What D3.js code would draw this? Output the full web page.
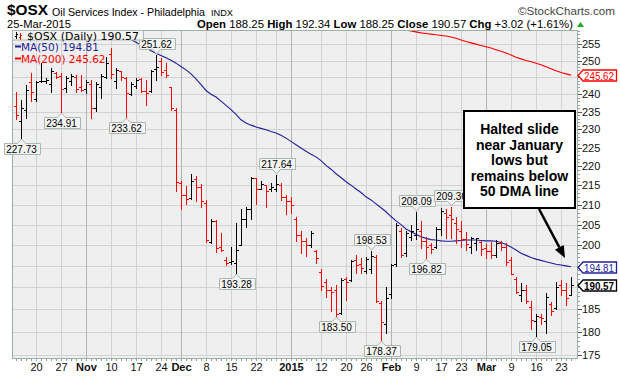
<!DOCTYPE html>
<html><head><meta charset="utf-8">
<script src="https://cdn.jsdelivr.net/npm/d3@7/dist/d3.min.js"></script>
<style>
body{margin:0;background:#fff}
svg{display:block;font-family:"Liberation Sans",Arial,sans-serif}
</style>
</head><body>
<svg id="c" width="620" height="376"></svg>
<script>
// ---------------- DATA ----------------
const dates = [
"2014-10-14","2014-10-15","2014-10-16","2014-10-17","2014-10-20","2014-10-21","2014-10-22","2014-10-23","2014-10-24","2014-10-27","2014-10-28","2014-10-29","2014-10-30","2014-10-31",
"2014-11-03","2014-11-04","2014-11-05","2014-11-06","2014-11-07","2014-11-10","2014-11-11","2014-11-12","2014-11-13","2014-11-14","2014-11-17","2014-11-18","2014-11-19","2014-11-20","2014-11-21","2014-11-24","2014-11-25","2014-11-26","2014-11-28",
"2014-12-01","2014-12-02","2014-12-03","2014-12-04","2014-12-05","2014-12-08","2014-12-09","2014-12-10","2014-12-11","2014-12-12","2014-12-15","2014-12-16","2014-12-17","2014-12-18","2014-12-19","2014-12-22","2014-12-23","2014-12-24","2014-12-26","2014-12-29","2014-12-30","2014-12-31",
"2015-01-02","2015-01-05","2015-01-06","2015-01-07","2015-01-08","2015-01-09","2015-01-12","2015-01-13","2015-01-14","2015-01-15","2015-01-16","2015-01-20","2015-01-21","2015-01-22","2015-01-23","2015-01-26","2015-01-27","2015-01-28","2015-01-29","2015-01-30",
"2015-02-02","2015-02-03","2015-02-04","2015-02-05","2015-02-06","2015-02-09","2015-02-10","2015-02-11","2015-02-12","2015-02-13","2015-02-17","2015-02-18","2015-02-19","2015-02-20","2015-02-23","2015-02-24","2015-02-25","2015-02-26","2015-02-27",
"2015-03-02","2015-03-03","2015-03-04","2015-03-05","2015-03-06","2015-03-09","2015-03-10","2015-03-11","2015-03-12","2015-03-13","2015-03-16","2015-03-17","2015-03-18","2015-03-19","2015-03-20","2015-03-23","2015-03-24","2015-03-25"];

const opens = [236.5,232.5,235.5,243.5,238.5,243.8,244.0,243.0,246.2,245.5,241.8,244.0,245.0,242.0,
241.5,243.0,236.0,242.0,245.0,252.0,244.0,246.7,244.8,240.0,242.5,244.5,241.0,241.0,247.5,250.0,247.0,242.0,235.5,
215.5,212.4,211.8,216.5,214.5,210.5,200.8,206.0,199.5,196.5,196.0,195.6,200.0,206.5,209.0,216.8,214.0,215.0,214.0,214.0,215.0,212.0,
211.0,206.5,202.5,201.0,200.0,198.6,193.5,191.2,189.5,189.5,184.2,192.0,191.8,196.3,195.5,193.8,194.2,197.2,186.5,181.8,
188.5,195.5,203.5,198.0,202.0,202.5,203.5,201.0,200.0,199.5,204.0,208.0,207.5,205.5,203.5,201.5,199.5,200.5,200.8,
199.2,198.5,197.5,200.5,199.5,196.5,192.0,188.2,189.5,185.5,182.4,183.3,182.5,186.2,185.4,190.5,189.3,188.25];
const highs = [240.8,238.4,242.7,246.2,243.9,249.2,244.7,247.7,246.5,246.2,245.4,246.0,245.7,245.7,
244.2,244.2,243.7,246.0,251.2,253.7,247.7,246.8,245.2,243.7,244.7,244.7,244.2,247.2,251.62,250.7,249.2,242.2,236.0,
216.1,214.9,217.8,217.5,215.3,211.1,206.5,206.1,202.8,197.0,199.6,205.3,209.0,209.4,217.1,216.9,216.1,215.0,215.7,217.64,215.7,212.4,
211.9,207.0,203.5,201.6,203.3,198.8,194.2,192.0,190.0,190.5,192.1,192.3,196.4,197.6,196.8,197.0,198.53,197.6,187.0,190.0,
195.5,205.5,204.2,203.3,205.0,208.09,205.8,202.0,200.5,204.3,209.2,208.8,209.36,206.8,205.8,203.2,202.0,201.8,201.0,
200.2,200.8,201.2,201.0,200.4,197.2,192.5,191.0,190.6,186.8,183.9,184.0,188.7,186.6,191.2,191.6,190.9,192.34];
const lows = [232.9,227.73,233.3,238.0,238.0,243.5,243.2,240.8,244.7,234.91,240.8,242.7,240.8,241.0,
240.5,233.2,235.1,239.0,244.7,244.7,241.8,244.2,233.62,239.8,241.8,240.8,237.0,240.8,244.2,245.7,245.2,235.5,213.6,
209.0,210.2,211.5,211.0,209.4,200.8,200.4,198.4,198.6,195.2,195.4,193.28,200.0,204.5,206.5,210.2,214.0,209.4,213.6,213.6,211.1,207.7,
207.8,201.0,198.0,197.3,199.6,195.6,189.5,187.8,184.6,183.5,184.0,187.2,191.5,193.3,193.3,193.3,193.4,186.6,178.37,179.9,
187.5,195.0,197.0,197.3,201.2,201.5,199.2,196.82,198.0,199.3,202.5,201.8,201.6,200.4,199.6,198.8,198.0,198.8,197.6,
196.8,196.8,197.2,198.8,195.2,193.0,188.7,186.8,186.4,180.7,179.05,181.8,179.7,183.7,185.2,188.3,186.1,188.25];
const closes = [234.0,236.0,241.3,240.8,243.5,243.9,244.2,246.8,245.0,241.5,244.8,245.5,241.5,241.3,
243.6,236.0,243.0,245.5,249.2,246.0,247.0,245.0,240.3,243.0,244.3,241.0,240.5,246.8,248.0,246.5,245.8,236.0,215.9,
212.4,211.5,216.1,214.5,211.0,201.2,206.0,199.2,198.9,195.6,196.2,198.8,206.5,209.0,216.8,214.0,215.3,213.5,214.5,215.3,211.9,210.8,
210.0,202.5,201.0,200.0,203.0,196.8,190.3,189.5,189.0,184.0,191.8,191.3,196.2,195.3,194.5,196.6,197.3,187.0,182.3,187.6,
195.2,205.0,197.6,202.8,203.5,203.8,201.0,199.5,199.0,204.0,208.5,207.0,206.3,204.0,201.5,200.3,201.6,201.8,199.0,
198.5,197.5,200.5,199.5,196.0,193.2,189.0,189.3,187.0,182.6,183.5,183.0,187.9,184.6,190.0,189.5,187.55,190.57];

const ma50Start = "2014-11-10";
const ma50 = [259.8,258.9,258.0,257.1,256.4,255.6,254.7,253.9,253.0,252.2,251.5,250.8,250.1,249.2,
248.2,247.2,246.0,244.5,242.8,241.1,240.0,239.2,238.0,236.8,235.6,234.2,232.7,231.8,231.2,230.7,230.3,229.9,229.4,229.0,228.4,227.6,
226.7,225.8,224.9,224.0,223.2,222.5,221.5,220.2,219.2,218.0,217.0,215.9,215.0,214.0,213.1,212.0,211.2,210.2,209.2,208.2,
207.0,205.9,205.0,203.9,203.2,202.6,202.0,201.6,201.3,201.2,201.0,200.9,200.9,201.0,201.1,201.2,201.2,201.2,201.1,
201.0,201.0,200.9,200.6,200.1,199.5,198.8,198.0,197.5,197.0,196.6,196.3,196.0,195.7,195.4,195.2,195.0,194.81];

const ma200Start = "2015-02-03";
const ma200 = [260.2,259.8,259.4,259.1,258.8,258.5,258.3,258.1,257.9,257.7,257.5,257.2,256.8,256.3,255.8,255.4,255.0,254.6,
254.2,253.8,253.3,252.8,252.3,251.7,251.0,250.5,250.0,249.6,249.2,248.7,248.1,247.5,246.9,246.4,246.0,245.62];

const calloutDates = ["2014-10-15","2014-10-27","2014-11-13","2014-11-21","2014-12-16","2014-12-29","2015-01-15","2015-01-27","2015-01-29","2015-02-09","2015-02-11","2015-02-19","2015-03-16"];
const calloutValues = [227.73,234.91,233.62,251.62,193.28,217.64,183.50,198.53,178.37,208.09,196.82,209.36,179.05];
const calloutSides = ["low","low","low","high","low","high","low","high","low","high","low","high","low"];

const tickDates = ["2014-10-20","2014-10-27","2014-11-03","2014-11-10","2014-11-17","2014-11-24","2014-12-01","2014-12-08","2014-12-15","2014-12-22","2014-12-29","2015-01-02","2015-01-12","2015-01-20","2015-01-26","2015-02-02","2015-02-09","2015-02-17","2015-02-23","2015-03-02","2015-03-09","2015-03-16","2015-03-23"];
const tickLabels = ["20","27","Nov","10","17","24","Dec","8","15","22","","2015","12","20","26","Feb","9","17","23","Mar","9","16","23"];
const tickMajor = [0,0,1,0,0,0,1,0,0,0,0,1,0,0,0,1,0,0,0,1,0,0,0];

const priceTicks = [175,180,185,190,195,200,205,210,215,220,225,230,235,240,245,250,255];

const noteLines = ["Halted slide","near January","lows but","remains below","50 DMA line"];

// ---------------- LAYOUT ----------------
const L = 12, R = 578, T = 30, B = 359;
const svg = d3.select("#c");
const idx = new Map(dates.map((d,i)=>[d,i]));
const x = d3.scaleLinear().domain([-0.8, 112.4]).range([L, R]);
const y = d3.scaleLog().domain([174.23, 259.4]).range([B, T]);
const px = i => Math.round(x(i)) + 0.5;

// plot background
svg.append("rect").attr("x",L).attr("y",T).attr("width",R-L).attr("height",B-T).attr("fill","#efefef");

// horizontal grid
svg.append("g").selectAll("line").data(priceTicks).join("line")
  .attr("x1",L).attr("x2",R)
  .attr("y1",d=>Math.round(y(d))+0.5).attr("y2",d=>Math.round(y(d))+0.5)
  .attr("stroke","#d2d2d2").attr("stroke-width",1);
// vertical grid
svg.append("g").selectAll("line").data(tickDates).join("line")
  .attr("x1",d=>px(idx.get(d))).attr("x2",d=>px(idx.get(d)))
  .attr("y1",T).attr("y2",B)
  .attr("stroke",(d,i)=>tickMajor[i]?"#b4b4b4":"#d2d2d2").attr("stroke-width",1);

// clip
svg.append("clipPath").attr("id","clip").append("rect").attr("x",L).attr("y",T).attr("width",R-L).attr("height",B-T);

// MA lines
const ma50Off = idx.get(ma50Start), ma200Off = idx.get(ma200Start);
const line = d3.line().x(d=>x(d[0])).y(d=>y(d[1]));
svg.append("path").attr("clip-path","url(#clip)")
  .attr("d",line(ma200.map((v,i)=>[i+ma200Off,v])))
  .attr("fill","none").attr("stroke","#ff0000").attr("stroke-width",1.1);
svg.append("path").attr("clip-path","url(#clip)")
  .attr("d",line(ma50.map((v,i)=>[i+ma50Off,v])))
  .attr("fill","none").attr("stroke","#1f1f9a").attr("stroke-width",1.1);

// OHLC bars
const bars = svg.append("g").attr("clip-path","url(#clip)");
dates.forEach((d,i)=>{
  const up = i===0 ? closes[i]>=opens[i] : closes[i]>=closes[i-1];
  const col = up ? "#000000" : "#ff0000";
  const cx = px(i);
  const g = bars.append("g").attr("stroke",col).attr("stroke-width",1).attr("shape-rendering","crispEdges");
  g.append("line").attr("x1",cx).attr("x2",cx).attr("y1",Math.round(y(highs[i]))).attr("y2",Math.round(y(lows[i]))+1);
  const yo = Math.round(y(opens[i]))+0.5, yc = Math.round(y(closes[i]))+0.5;
  g.append("line").attr("x1",cx-2.5).attr("x2",cx).attr("y1",yo).attr("y2",yo);
  g.append("line").attr("x1",cx).attr("x2",cx+2.5).attr("y1",yc).attr("y2",yc);
});

// border
svg.append("rect").attr("x",L+0.5).attr("y",T+0.5).attr("width",R-L-1).attr("height",B-T-1)
  .attr("fill","none").attr("stroke","#9cb0a8");

// minor ticks bottom (each trading day)
svg.append("g").selectAll("line").data(dates).join("line")
  .attr("x1",(d,i)=>px(i)).attr("x2",(d,i)=>px(i)).attr("y1",B).attr("y2",B+2)
  .attr("stroke","#999");
// x labels
svg.append("g").selectAll("text").data(tickDates).join("text")
  .attr("x",d=>x(idx.get(d))+0.5).attr("y",371)
  .attr("text-anchor","middle").attr("font-size",11)
  .attr("font-weight",(d,i)=>tickMajor[i]?"bold":"normal")
  .attr("fill","#111")
  .text((d,i)=>tickLabels[i]);

// right value tags values
const tagVals = [ma200[ma200.length-1], ma50[ma50.length-1], closes[closes.length-1]];

// right axis minor ticks
svg.append("g").selectAll("line").data(d3.range(175,260)).join("line")
  .attr("x1",R).attr("x2",R+2).attr("y1",d=>Math.round(y(d))+0.5).attr("y2",d=>Math.round(y(d))+0.5)
  .attr("stroke","#999");
svg.append("g").selectAll("line").data(priceTicks).join("line")
  .attr("x1",R).attr("x2",R+4).attr("y1",d=>Math.round(y(d))+0.5).attr("y2",d=>Math.round(y(d))+0.5)
  .attr("stroke","#555");
svg.append("g").selectAll("text")
  .data(priceTicks.filter(t=>tagVals.every(v=>Math.abs(y(t)-y(v))>9))).join("text")
  .attr("x",582).attr("y",d=>y(d)+4).attr("font-size",11).attr("fill","#111")
  .text(d=>d);

// callouts
calloutDates.forEach((d,k)=>{
  const i = idx.get(d), cx = x(i)+0.5, v = calloutValues[k];
  const g = svg.append("g");
  const t = g.append("text").attr("font-size",10).attr("text-anchor","middle").attr("fill","#000").text(v.toFixed(2));
  const w = t.node().getComputedTextLength()+5, h = 11;
  const l = Math.round(cx - w/2)+0.5, r = l + Math.round(w);
  let p;
  if (calloutSides[k]==="low"){
    const top = Math.round(y(v))+5.5, bot = top+h;
    p = `M${l},${top}L${cx-4},${top}L${cx},${top-4.5}L${cx+4},${top}L${r},${top}L${r},${bot}L${l},${bot}Z`;
    t.attr("x",cx).attr("y",bot-2);
  } else {
    const bot = Math.round(y(v))-5.5, top = bot-h;
    p = `M${l},${top}L${r},${top}L${r},${bot}L${cx+4},${bot}L${cx},${bot+4.5}L${cx-4},${bot}L${l},${bot}Z`;
    t.attr("x",cx).attr("y",bot-2);
  }
  g.insert("path","text").attr("d",p).attr("fill","#f4f4f4").attr("stroke","#a8b8b0");
});

// legend box
svg.append("rect").attr("x",L+0.5).attr("y",T+0.5).attr("width",131).attr("height",9.5)
  .attr("fill","#f4f4f4").attr("stroke","#a8b8b0");
const lg = svg.append("g").attr("font-family","DejaVu Sans, Verdana, sans-serif").attr("font-size",10.5);
[[16,32,39,"#000"],[20,33,40,"#ff0000"]].forEach(a=>{
  lg.append("line").attr("x1",a[0]+0.5).attr("x2",a[0]+0.5).attr("y1",a[1]).attr("y2",a[2]).attr("stroke",a[3]);
  lg.append("line").attr("x1",a[0]-1).attr("x2",a[0]+0.5).attr("y1",a[1]+4.5).attr("y2",a[1]+4.5).attr("stroke",a[3]);
  lg.append("line").attr("x1",a[0]+0.5).attr("x2",a[0]+2).attr("y1",a[1]+2.5).attr("y2",a[1]+2.5).attr("stroke",a[3]);
});
lg.append("text").attr("x",27).attr("y",39.5).attr("font-size",10).attr("fill","#000")
  .attr("textLength",112).attr("lengthAdjust","spacingAndGlyphs")
  .text("$OSX (Daily) " + closes[closes.length-1].toFixed(2));
lg.append("line").attr("x1",15).attr("x2",21).attr("y1",46.5).attr("y2",46.5).attr("stroke","#1f1f9a").attr("stroke-width",2);
lg.append("text").attr("x",21).attr("y",50.5).attr("fill","#1f1f9a").text("MA(50) " + ma50[ma50.length-1].toFixed(2));
lg.append("line").attr("x1",15).attr("x2",21).attr("y1",58.5).attr("y2",58.5).attr("stroke","#ff0000").attr("stroke-width",2);
lg.append("text").attr("x",21).attr("y",62.5).attr("fill","#ff0000").text("MA(200) " + ma200[ma200.length-1].toFixed(2));

// right value tags
function tag(v, col, bold){
  const yc = Math.round(y(v))+0.5;
  svg.append("path").attr("d",`M${R},${yc}L${R+5},${yc-5.5}L616.5,${yc-5.5}L616.5,${yc+5.5}L${R+5},${yc+5.5}Z`)
    .attr("fill","#fff").attr("stroke",col).attr("stroke-width",1.3);
  svg.append("text").attr("x",584).attr("y",yc+4).attr("font-size",11).attr("fill",col)
    .attr("textLength",30).attr("lengthAdjust","spacingAndGlyphs")
    .attr("font-weight",bold?"bold":"normal").text(v.toFixed(2));
}
tag(tagVals[0],"#ff0000",false);
tag(tagVals[1],"#1f1f9a",false);
tag(tagVals[2],"#000",true);

// annotation box + arrow
svg.append("rect").attr("x",464).attr("y",111).attr("width",111).attr("height",97)
  .attr("fill","#fff").attr("stroke","#000").attr("stroke-width",2);
svg.append("g").selectAll("text").data(noteLines).join("text")
  .attr("x",519.5).attr("y",(d,i)=>134+i*15.6).attr("text-anchor","middle")
  .attr("font-size",14).attr("font-weight","bold").attr("fill","#000").text(d=>d);
const tipX = 565, tipY = 258, sx = 539, sy = 209;
const dx = tipX-sx, dy = tipY-sy, len = Math.hypot(dx,dy), ux = dx/len, uy = dy/len;
const bx = tipX-12*ux, by = tipY-12*uy;
svg.append("line").attr("x1",sx).attr("y1",sy).attr("x2",bx).attr("y2",by).attr("stroke","#000").attr("stroke-width",2.5);
svg.append("path").attr("d",`M${tipX},${tipY}L${bx+5*uy},${by-5*ux}L${bx-5*uy},${by+5*ux}Z`).attr("fill","#000");

// header
svg.append("text").attr("x",7).attr("y",15).attr("font-size",15).attr("font-weight","bold")
  .attr("textLength",41).attr("lengthAdjust","spacingAndGlyphs").text("$OSX");
svg.append("text").attr("x",52).attr("y",15.5).attr("font-size",11)
  .attr("textLength",153).attr("lengthAdjust","spacingAndGlyphs").text("Oil Services Index - Philadelphia");
svg.append("text").attr("x",211).attr("y",15.5).attr("font-size",9.5)
  .attr("textLength",22).attr("lengthAdjust","spacingAndGlyphs").text("INDX");
svg.append("text").attr("x",518).attr("y",15).attr("font-size",11.5).attr("fill","#444")
  .attr("textLength",97).attr("lengthAdjust","spacingAndGlyphs").text("\u00A9StockCharts.com");
svg.append("text").attr("x",7).attr("y",27.8).attr("font-size",10.5)
  .attr("textLength",64).attr("lengthAdjust","spacingAndGlyphs").text("25-Mar-2015");
const hdr = svg.append("text").attr("x",197).attr("y",27.8).attr("font-size",10.5)
  .attr("textLength",376).attr("lengthAdjust","spacingAndGlyphs");
[["Open ",1],["188.25 ",0],["High ",1],["192.34 ",0],["Low ",1],["188.25 ",0],["Close ",1],["190.57 ",0],["Chg ",1],["+3.02 (+1.61%)",0]]
  .forEach(p=>hdr.append("tspan").attr("font-weight",p[1]?"bold":"normal").text(p[0]));
svg.append("path").attr("d","M577,27L580.5,22L584,27Z").attr("fill","#22aa22");
</script>
</body></html>
